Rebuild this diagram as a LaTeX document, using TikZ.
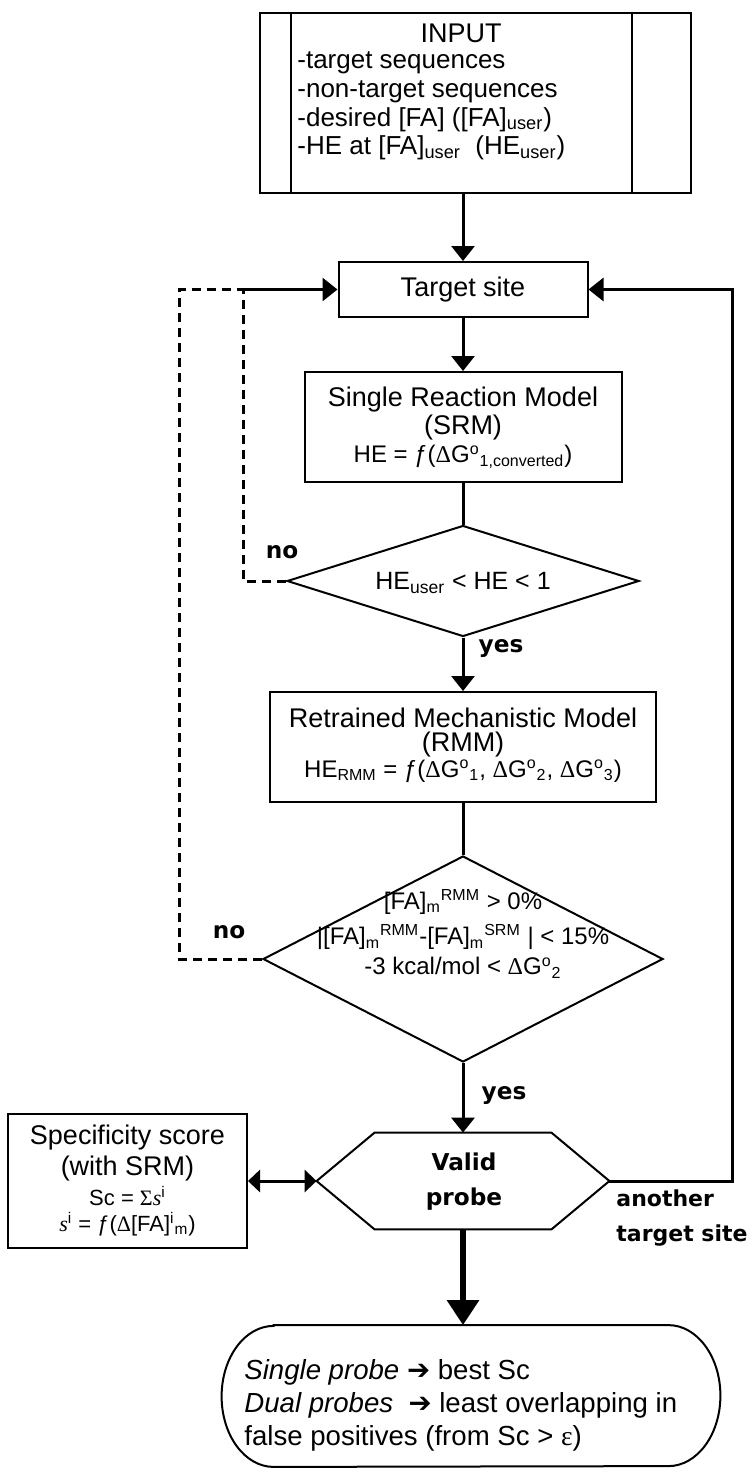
\documentclass[tikz,border=0pt]{standalone}
\usepackage{fontspec}
\setmainfont{Liberation Sans}
\newfontfamily\lblfont{DejaVu Sans}
\newfontfamily\symfont{Liberation Serif}
\usetikzlibrary{arrows.meta,shapes.geometric}

% text sizes
\newcommand{\ttl}{\fontsize{13.5}{15}\selectfont}
\newcommand{\frm}{\fontsize{12}{13}\selectfont}
\newcommand{\lbl}{\lblfont\bfseries\fontsize{11.6}{17.5}\selectfont}
% symbols
\newcommand{\dG}[1]{{\symfont Δ}G\textsuperscript{o}\textsubscript{#1}}
\newcommand{\fn}{ƒ(}
\newcommand{\FAm}[1]{[FA]\textsubscript{m}\textsuperscript{#1}}

\begin{document}
\begin{tikzpicture}[x=0.5pt,y=-0.5pt,
  box/.style={draw, line width=1pt, rectangle, inner sep=0pt},
  ghost/.style={rectangle, inner sep=0pt},
  txt/.style={inner sep=0pt, font=\ttl},
  ftxt/.style={inner sep=0pt, font=\frm},
  conn/.style={line width=1.5pt},
  arr/.style={conn, -{Triangle[length=7.5pt,width=11.5pt]}},
  dline/.style={line width=1.5pt, dash pattern=on 4.5pt off 3pt},
  flag/.style={inner sep=0pt, font=\lbl}]
\useasboundingbox (0,0) rectangle (751,1477);

% input block with side bars
\node[box, minimum width=215.5pt, minimum height=90pt] (input) at (475.5,103) {};
\draw[line width=1pt] ([xshift=16pt]input.north west) -- ([xshift=16pt]input.south west);
\draw[line width=1pt] ([xshift=-30pt]input.north east) -- ([xshift=-30pt]input.south east);
\node[txt] (inhead) at (461,33) {INPUT};
\node[txt, anchor=west, align=left, font=\fontsize{13}{14.3}\selectfont] (inlist) at (297,106)
  {-target sequences\\-non-target sequences\\-desired [FA] ([FA]\textsubscript{user})\\-HE at [FA]\textsubscript{user}\ \ (HE\textsubscript{user})};

% target site
\node[box, minimum width=124.5pt, minimum height=27.5pt, font=\ttl] (target) at (463,289.5) {Target site};

% single reaction model
\node[box, minimum width=158.5pt, minimum height=55pt] (srm) at (463,427) {};
\node[txt] (srm1) at (463,400) {Single Reaction Model};
\node[txt] (srm2) at (463,428) {(SRM)};
\node[ftxt] (srm3) at (463,457) {HE = \fn\dG{1,converted})};

% first decision
\node[diamond, draw, line width=1pt, inner sep=0pt, minimum width=176pt, minimum height=55.5pt] (d1) at (463,581) {};
\node[inner sep=0pt, font=\fontsize{12.5}{13}\selectfont] (d1t) at (463,583) {HE\textsubscript{user} < HE < 1};

% retrained mechanistic model
\node[box, minimum width=193pt, minimum height=55pt] (rmm) at (463,747) {};
\node[txt] (rmm1) at (463,718) {Retrained Mechanistic Model};
\node[txt] (rmm2) at (463,745) {(RMM)};
\node[ftxt] (rmm3) at (463,771) {HE\textsubscript{RMM} = \fn\dG{1}, \dG{2}, \dG{3})};

% second decision
\node[diamond, draw, line width=1pt, inner sep=0pt, minimum width=200pt, minimum height=103pt] (d2) at (463,959) {};
\node[ftxt] (d2a) at (463,902) {\FAm{RMM} > 0\%};
\node[ftxt] (d2b) at (463,937) {|\FAm{RMM}-\FAm{SRM} | < 15\%};
\node[ftxt] (d2c) at (463,968) {-3 kcal/mol < \dG{2}};

% valid probe (hexagon)
\node[ghost, minimum width=146pt, minimum height=48pt] (hex) at (463,1181) {};
\draw[line width=1pt] (hex.west) -- ([xshift=29pt]hex.north west) -- ([xshift=-29pt]hex.north east)
  -- (hex.east) -- ([xshift=-29pt]hex.south east) -- ([xshift=29pt]hex.south west) -- cycle;
\node[flag, align=center] (hext) at (464,1182) {Valid\\probe};

% specificity score
\node[box, minimum width=119.5pt, minimum height=67pt] (spec) at (127.5,1181) {};
\node[txt] (spec1) at (127.5,1138) {Specificity score};
\node[txt] (spec2) at (127.5,1168) {(with SRM)};
\node[inner sep=0pt, font=\fontsize{11}{12}\selectfont] (spec3) at (127.5,1196) {Sc = {\symfont Σ\textit{s}}\textsuperscript{i}};
\node[inner sep=0pt, font=\fontsize{11}{12}\selectfont] (spec4) at (127.5,1224) {{\symfont\textit{s}}\textsuperscript{i} = \fn{\symfont Δ}[FA]\textsuperscript{i}\textsubscript{m})};

% terminal
\node[ghost, minimum width=249pt, minimum height=70.5pt] (term) at (471,1396) {};
\draw[line width=1pt] ([xshift=26pt]term.north west) -- ([xshift=-26pt]term.north east)
  arc[start angle=90, end angle=-90, x radius=26pt, y radius=35.25pt]
  -- ([xshift=26pt]term.south west)
  arc[start angle=270, end angle=90, x radius=26pt, y radius=35.25pt] -- cycle;
\node[txt, anchor=west, align=left, font=\fontsize{13.8}{16.5}\selectfont] (termt) at (244,1405)
  {\textit{Single probe} {\lblfont ➔} best Sc\\\textit{Dual probes}\ \ {\lblfont ➔} least overlapping in\\false positives (from Sc > {\symfont ε})};

% labels
\node[flag] (no1) at (282,552) {no};
\node[flag] (yes1) at (501,648) {yes};
\node[flag] (no2) at (229,932) {no};
\node[flag] (yes2) at (504,1095) {yes};
\node[flag, align=left, anchor=west, font=\lblfont\bfseries\fontsize{11}{17.5}\selectfont] (another) at (616,1218) {another\\target site};

% main flow
\draw[arr] (input.south -| target) -- (target.north);
\draw[arr] (target) -- (srm);
\draw[conn] (srm) -- (d1);
\draw[arr] (d1) -- (rmm);
\draw[conn] (rmm) -- (d2);
\draw[arr] (d2) -- (hex.north);
\draw[line width=3pt, -{Triangle[length=12.5pt,width=15.5pt]}] (hex.south) -- (hex.south |- term.north);
\draw[conn, {Triangle[length=6pt,width=11pt]}-{Triangle[length=6pt,width=11pt]}] (spec.east) -- (hex.west);

% loops back to the target site
\coordinate (rc) at (732,1181);
\draw[arr] (hex.east) -- (rc) |- (target.east);
\coordinate (j) at (243,289.5);
\coordinate (k) at (179,289.5);
\draw[arr] (j) -- (target.west);
\draw[dline] (d1.west) -| (j);
\draw[dline] (d2.west) -| (k) -- (j);
\end{tikzpicture}
\end{document}
